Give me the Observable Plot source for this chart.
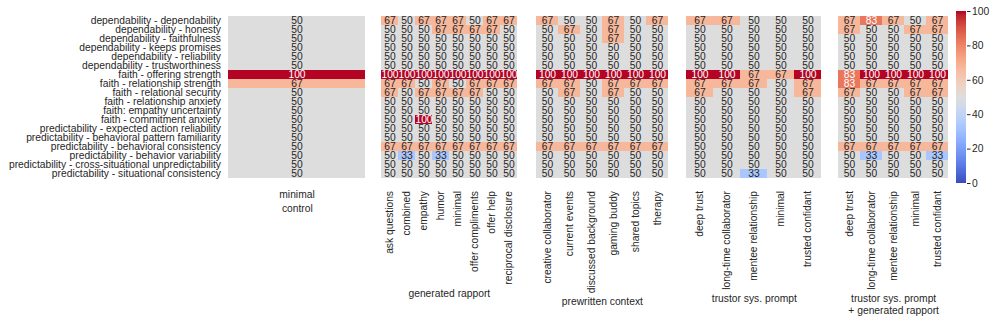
<!DOCTYPE html>
<html><head><meta charset="utf-8">
<script src="https://cdn.jsdelivr.net/npm/d3@7"></script>
<script src="https://cdn.jsdelivr.net/npm/@observablehq/plot@0.6"></script>
<style>
body{margin:0;background:#fff;}
#chart{position:relative;width:996px;height:322px;overflow:hidden;}
#chart svg{position:absolute;top:0;overflow:visible;}
</style></head><body><div id="chart"></div>
<script>
const rows = [
  "dependability - dependability",
  "dependability - honesty",
  "dependability - faithfulness",
  "dependability - keeps promises",
  "dependability - reliability",
  "dependability - trustworthiness",
  "faith - offering strength",
  "faith - relationship strength",
  "faith - relational security",
  "faith - relationship anxiety",
  "faith: empathy uncertainty",
  "faith - commitment anxiety",
  "predictability - expected action reliability",
  "predictability - behavioral pattern familiarity",
  "predictability - behavioral consistency",
  "predictability - behavior variability",
  "predictability - cross-situational unpredictability",
  "predictability - situational consistency"
];

const controlColumns = ["minimal"];
const rapportColumns = ["ask questions","combined","empathy","humor","minimal","offer compliments","offer help","reciprocal disclosure"];
const prewrittenColumns = ["creative collaborator","current events","discussed background","gaming buddy","shared topics","therapy"];
const trustorColumns = ["deep trust","long-time collaborator","mentee relationship","minimal","trusted confidant"];
const trustorRapportColumns = ["deep trust","long-time collaborator","mentee relationship","minimal","trusted confidant"];

const panelTitles = ["control","generated rapport","prewritten context","trustor sys. prompt","trustor sys. prompt\n+ generated rapport"];

// values: one inner array per row (rows order), one entry per column
const controlValues = [
  [50],[50],[50],[50],[50],[50],
  [100],[67],[50],[50],[50],[50],
  [50],[50],[50],[50],[50],[50]
];
const rapportValues = [
  [67,50,67,67,67,50,67,67],
  [50,50,50,67,67,67,67,50],
  [50,50,50,50,50,50,50,50],
  [50,50,50,50,50,50,50,50],
  [50,50,50,50,50,50,50,50],
  [50,50,50,50,50,50,50,50],
  [100,100,100,100,100,100,100,100],
  [67,67,50,67,50,67,67,67],
  [67,50,67,67,67,67,50,50],
  [50,50,50,50,50,50,50,50],
  [50,50,50,50,50,50,50,50],
  [50,50,100,50,50,50,50,50],
  [50,50,50,50,50,50,50,50],
  [50,50,50,50,50,50,50,50],
  [67,67,67,67,67,67,67,67],
  [50,33,50,33,50,50,50,50],
  [50,50,50,50,50,50,50,50],
  [50,50,50,50,50,50,50,50]
];
const prewrittenValues = [
  [67,50,50,67,50,67],
  [50,67,50,67,50,50],
  [50,50,50,67,50,50],
  [50,50,50,50,50,50],
  [50,50,50,50,50,50],
  [50,50,50,50,50,50],
  [100,100,100,100,100,100],
  [67,67,50,67,67,67],
  [50,67,50,67,50,50],
  [50,50,50,50,50,50],
  [50,50,50,50,50,50],
  [50,50,50,50,50,50],
  [50,50,50,50,50,50],
  [50,50,50,50,50,50],
  [67,67,67,67,67,67],
  [50,50,50,50,50,50],
  [50,50,50,50,50,50],
  [50,50,50,50,50,50]
];
const trustorValues = [
  [67,67,50,50,50],
  [50,50,50,50,50],
  [50,50,50,50,50],
  [50,50,50,50,50],
  [50,50,50,50,50],
  [50,50,50,50,50],
  [100,100,67,67,100],
  [67,67,67,50,67],
  [67,50,50,50,67],
  [50,50,50,50,50],
  [50,50,50,50,50],
  [50,50,50,50,50],
  [50,50,50,50,50],
  [50,50,50,50,50],
  [50,50,50,50,50],
  [50,50,50,50,50],
  [50,50,50,50,50],
  [50,50,33,50,50]
];
const trustorRapportValues = [
  [67,83,67,50,67],
  [67,50,50,67,67],
  [50,50,50,50,50],
  [50,50,50,50,50],
  [50,50,50,50,50],
  [50,50,50,50,50],
  [83,100,100,100,100],
  [83,67,67,67,67],
  [67,50,50,67,67],
  [50,50,50,50,50],
  [50,50,50,50,50],
  [50,50,50,50,50],
  [50,50,50,50,50],
  [50,50,50,50,50],
  [67,67,67,67,67],
  [50,33,50,50,33],
  [50,50,50,50,50],
  [50,50,50,50,50]
];

const colorbarTicks = [0,20,40,60,80,100];

// matplotlib "coolwarm" colormap stops
const coolwarmRGB = [
  [59,76,192],[68,90,204],[77,104,215],[87,117,225],[98,130,234],[108,142,241],[119,154,247],[130,165,251],
  [141,176,254],[152,185,255],[163,194,255],[174,201,253],[184,208,249],[194,213,244],[204,217,238],[213,219,230],
  [221,221,221],[229,216,209],[236,211,197],[241,204,185],[245,196,173],[247,187,160],[247,177,148],[247,166,135],
  [244,154,123],[241,141,111],[236,127,99],[229,112,88],[222,96,77],[213,80,66],[203,62,56],[192,40,47],[180,4,38]
];
const colorRange = coolwarmRGB.map(([r,g,b]) => `rgb(${r},${g},${b})`);
const colorDomain = coolwarmRGB.map((_, i) => i * 100 / (coolwarmRGB.length - 1));
const colorOpts = {type: "linear", domain: colorDomain, range: colorRange, interpolate: "rgb"};
const colorFn = d3.scaleLinear().domain(colorDomain).range(colorRange).interpolate(d3.interpolateRgb);
function isDark(v) {
  const c = d3.rgb(colorFn(v));
  const lin = x => { x /= 255; return x <= 0.03928 ? x / 12.92 : Math.pow((x + 0.055) / 1.055, 2.4); };
  const L = 0.2126 * lin(c.r) + 0.7152 * lin(c.g) + 0.0722 * lin(c.b);
  return L <= 0.408;
}

const FS = 10.3;
const FONT = '"Liberation Sans", Arial, Helvetica, sans-serif';
const TEXT = "#262626";
const TOP = 11, BOTTOM = 183, H = 322;

const canvas = document.createElement("canvas");
const ctx = canvas.getContext("2d");
ctx.font = `${FS}px "Liberation Sans", Arial, sans-serif`;
const measure = s => ctx.measureText(s).width;

const panels = [
  {cols: controlColumns, values: controlValues},
  {cols: rapportColumns, values: rapportValues},
  {cols: prewrittenColumns, values: prewrittenValues},
  {cols: trustorColumns, values: trustorValues},
  {cols: trustorRapportColumns, values: trustorRapportValues}
].map((p, i) => ({...p, title: panelTitles[i]}));

const chart = document.getElementById("chart");

panels.forEach((p, i) => {
  const left = 228 + 152.3 * i;
  const w = i === 4 ? 112.3 : 137.7;
  const ml = i === 0 ? 228 : 20;
  const mr = 20;
  const cells = [];
  rows.forEach((r, ri) => p.cols.forEach((c, ci) => cells.push({row: r, col: c, v: p.values[ri][ci]})));
  const rotated = i !== 0;
  const tickPad = 7.5;
  let tickMark, titleMark;
  if (rotated) {
    const maxLen = d3.max(p.cols, measure);
    tickMark = Plot.text(p.cols, {x: d => d, frameAnchor: "bottom", dy: tickPad, rotate: -90, textAnchor: "end", lineAnchor: "middle", text: d => d, fill: TEXT});
    titleMark = Plot.text([p.title], {frameAnchor: "bottom", dy: tickPad + maxLen + 3.5, lineAnchor: "top", lineHeight: 1.17, text: d => d, fill: TEXT});
  } else {
    tickMark = Plot.text(p.cols, {x: d => d, frameAnchor: "bottom", dy: tickPad, lineAnchor: "top", text: d => d, fill: TEXT});
    titleMark = Plot.text([p.title], {frameAnchor: "bottom", dy: 25, lineAnchor: "middle", text: d => d, fill: TEXT});
  }
  const marks = [
    Plot.cell(cells, {x: "col", y: "row", fill: "v", inset: 0, shapeRendering: "crispEdges"}),
    Plot.text(cells, {filter: d => !isDark(d.v), x: "col", y: "row", text: d => String(d.v), fill: TEXT}),
    Plot.text(cells, {filter: d => isDark(d.v), x: "col", y: "row", text: d => String(d.v), fill: "white"}),
    tickMark,
    titleMark
  ];
  if (i === 0) marks.push(Plot.axisY({tickSize: 0, tickPadding: 7.5, label: null, fill: TEXT}));
  const svg = Plot.plot({
    width: ml + w + mr,
    height: H,
    marginLeft: ml, marginRight: mr, marginTop: TOP, marginBottom: H - BOTTOM,
    style: {fontFamily: FONT, fontSize: FS + "px", color: TEXT, background: "transparent", overflow: "visible"},
    x: {domain: p.cols, padding: 0, axis: null},
    y: {domain: rows, padding: 0, axis: null},
    color: colorOpts,
    marks
  });
  svg.style.left = (left - ml) + "px";
  chart.appendChild(svg);
});

// colorbar
const cbSteps = d3.range(0, 100, 0.5);
const cb = Plot.plot({
  width: 10 + 10 + 40,
  height: H,
  marginLeft: 10, marginRight: 40, marginTop: TOP, marginBottom: H - BOTTOM,
  style: {fontFamily: FONT, fontSize: FS + "px", color: TEXT, background: "transparent", overflow: "visible"},
  x: {domain: [0, 1], axis: null},
  y: {domain: [0, 100], axis: null},
  color: colorOpts,
  marks: [
    Plot.rect(cbSteps, {x1: 0, x2: 1, y1: d => d, y2: d => d + 0.5, fill: d => d + 0.25, inset: 0, shapeRendering: "crispEdges"}),
    Plot.axisY({anchor: "right", ticks: colorbarTicks, tickSize: 3.5, tickPadding: 2, label: null, fill: TEXT, stroke: TEXT})
  ]
});
cb.style.left = (956 - 10) + "px";
chart.appendChild(cb);
</script></body></html>
